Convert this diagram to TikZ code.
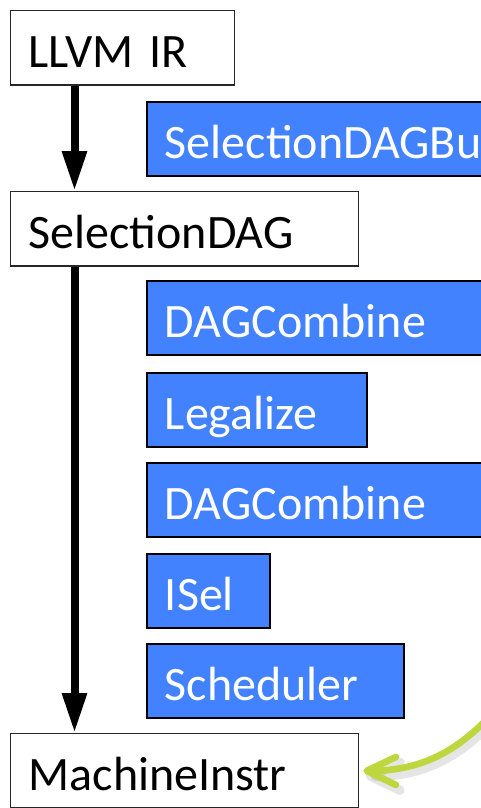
\documentclass[tikz,border=0pt]{standalone}
\usepackage{fontspec}
\setmainfont{Carlito}
\usetikzlibrary{arrows.meta}
\definecolor{passblue}{RGB}{66,130,255}
\definecolor{hintgreen}{RGB}{190,215,62}
\begin{document}
\begin{tikzpicture}[x=0.75pt,y=-0.75pt,
  boxfont/.style={font=\fontsize{36pt}{42pt}\selectfont},
  stage/.style={boxfont, draw=black!85, line width=1pt, fill=white,
    anchor=north west, inner xsep=13.5pt, inner ysep=0pt,
    text height=42.75pt, text depth=13pt, align=left},
  pass/.style={stage, draw=black, line width=1.4pt, fill=passblue, text=white},
  flow/.style={line width=6pt, -{Triangle[length=30pt,width=17.5pt]}},
  hint/.style={hintgreen, line width=5pt, line cap=round,
    -{Straight Barb[length=22pt,width=21pt,round]}},
  hintshade/.style={black, opacity=0.1, line width=7pt, line cap=round,
    -{Straight Barb[length=22pt,width=21pt,round]},
    transform canvas={shift={(2pt,-4pt)}}}
]
\useasboundingbox (0,0) rectangle (481,808);
\clip (0,0) rectangle (481,808);

% IR stages along the left spine
\node[stage, text width=141pt] (llvm) at (10,10) {LLVM IR};
\node[stage, text width=234pt] (sdag) at (10,191) {SelectionDAG};
\node[stage, text width=234pt] (mi)   at (10,733) {MachineInstr};

% passes of the SelectionDAG pipeline
\node[pass, text width=423pt]   (build) at (146,101) {SelectionDAGBuilder};
\node[pass, text width=423pt]   (comb1) at (146,280) {DAGCombine};
\node[pass, text width=138pt]   (legal) at (146,372) {Legalize};
\node[pass, text width=65.25pt] (isel)  at (146,553) {ISel};
\node[pass, text width=423pt]   (comb2) at (146,462) {DAGCombine};
\node[pass, text width=165.75pt] (sched) at (146,643) {Scheduler};

% vertical flow
\coordinate (spine) at (74.5,0);
\draw[flow] (llvm.south -| spine) -- (sdag.north -| spine);
\draw[flow] (sdag.south -| spine) -- (mi.north -| spine);

% incoming pointer from the right
\coordinate (from) at (515,685);
\draw[hintshade] (from) .. controls (470,748) and (425,771) .. ([xshift=3]mi.east);
\draw[hint] (from) .. controls (470,748) and (425,771) .. ([xshift=3]mi.east);
\end{tikzpicture}
\end{document}
